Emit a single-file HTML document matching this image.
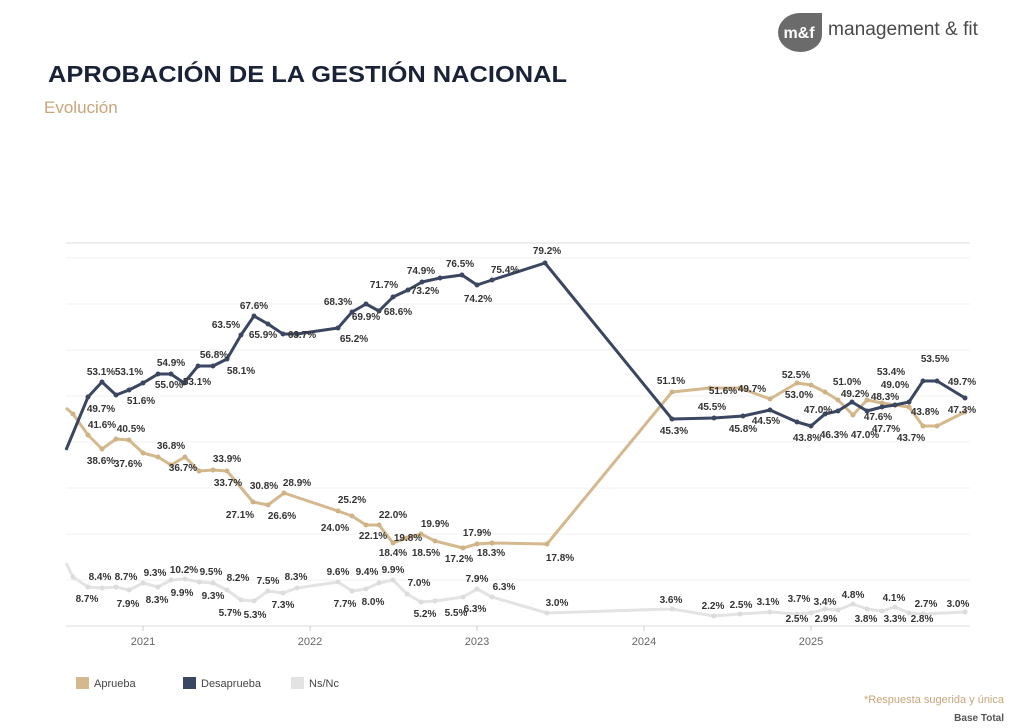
<!DOCTYPE html>
<html><head><meta charset="utf-8"><style>
html,body{margin:0;padding:0;background:#fff;}
svg{display:block;font-family:"Liberation Sans",sans-serif;}
</style></head><body>
<svg width="1024" height="728" viewBox="0 0 1024 728" xmlns="http://www.w3.org/2000/svg">
<defs>
<marker id="md" viewBox="0 0 6 6" refX="3" refY="3" markerWidth="5" markerHeight="5" markerUnits="userSpaceOnUse"><circle cx="3" cy="3" r="3" fill="#3b4661"/></marker>
<marker id="mb" viewBox="0 0 6 6" refX="3" refY="3" markerWidth="5" markerHeight="5" markerUnits="userSpaceOnUse"><circle cx="3" cy="3" r="3" fill="#cfb286"/></marker>
<marker id="mg" viewBox="0 0 6 6" refX="3" refY="3" markerWidth="5" markerHeight="5" markerUnits="userSpaceOnUse"><circle cx="3" cy="3" r="3" fill="#dcdcdc"/></marker>
</defs>
<!-- header -->
<path d="M800,13 L822,13 L822,35 A22,17 0 0 1 800,52 A22,19.5 0 0 1 778,32.5 A22,19.5 0 0 1 800,13 Z" fill="#6b6b6b"/>
<text x="799" y="38" font-size="16" font-weight="bold" fill="#fff" text-anchor="middle">m&amp;f</text>
<text x="828" y="35" font-size="19" fill="#4a4a4a" textLength="150" lengthAdjust="spacingAndGlyphs">management &amp; fit</text>
<text x="48" y="82" font-size="23" font-weight="bold" fill="#1a2238" textLength="519" lengthAdjust="spacingAndGlyphs">APROBACIÓN DE LA GESTIÓN NACIONAL</text>
<text x="44" y="113" font-size="17" fill="#c9a57a">Evolución</text>
<!-- grid -->
<line x1="66" y1="243" x2="970" y2="243" stroke="#ddd"/>
<g stroke="#f0f0f0" stroke-width="1">
<line x1="66" y1="258" x2="970" y2="258"/><line x1="66" y1="304" x2="970" y2="304"/>
<line x1="66" y1="350" x2="970" y2="350"/><line x1="66" y1="396" x2="970" y2="396"/>
<line x1="66" y1="442" x2="970" y2="442"/><line x1="66" y1="488" x2="970" y2="488"/>
<line x1="66" y1="534" x2="970" y2="534"/><line x1="66" y1="580" x2="970" y2="580"/>
</g>
<line x1="66" y1="626" x2="970" y2="626" stroke="#ddd"/>
<g stroke="#ccc"><line x1="143" y1="626" x2="143" y2="631"/><line x1="310" y1="626" x2="310" y2="631"/><line x1="477" y1="626" x2="477" y2="631"/><line x1="644" y1="626" x2="644" y2="631"/><line x1="811" y1="626" x2="811" y2="631"/></g>
<g font-size="11" fill="#666" text-anchor="middle">
<text x="143" y="645">2021</text><text x="310" y="645">2022</text><text x="477" y="645">2023</text><text x="644" y="645">2024</text><text x="811" y="645">2025</text></g>
<!-- Ns/Nc -->
<polyline fill="none" stroke="#e3e3e3" stroke-width="3" stroke-linejoin="round" marker-mid="url(#mg)" marker-end="url(#mg)" points="66,563 73,577 88,587 102,588 116,587 129,590 143,583 158,587 171,580 185,579 199,582 213,583 227,590 241,600 254,601 268,591 283,593 297,588 338,582 352,591 366,589 379,583 393,580 407,594 421,602 435,601 463,597 477,589 492,597 547,613 672,609 714,616 740,614 770,612 797,614 811,613 825,609 838,610 853,604 867,609 882,611 895,607 909,613 923,614 965,612"/>
<!-- Aprueba -->
<polyline fill="none" stroke="#d4b98f" stroke-width="3" stroke-linejoin="round" marker-mid="url(#mb)" marker-end="url(#mb)" points="66,408 73,414 88,435 102,449 116,439 129,440 143,453 158,457 171,465 185,457 199,471 213,470 227,471 253,502 268,505 284,493 338,511 352,516 366,525 379,525 393,543 407,538 421,534 435,541 463,548 477,544 492,543 547,544 672,392 710,388 740,388 770,399 797,383 811,385 825,392 838,400 853,415 867,400 882,403 895,405 909,407 923,426 937,426 965,412"/>
<!-- Desaprueba -->
<polyline fill="none" stroke="#3b4661" stroke-width="3" stroke-linejoin="round" marker-mid="url(#md)" marker-end="url(#md)" points="66,450 88,397 102,382 116,395 129,390 143,383 158,374 171,374 184,383 198,366 213,366 227,359 241,335 254,316 268,324 283,334 297,334 338,328 352,312 366,304 379,311 393,297 408,290 422,282 440,278 462,275 477,285 492,280 545,263 672,419 714,418 743,416 770,410 797,422 811,426 825,414 838,411 852,402 867,411 882,407 895,405 909,402 923,381 937,381 965,398"/>
<!-- labels -->
<g font-weight="bold" style="font-size:10px;fill:#333;text-anchor:middle">
<text x="101" y="375">53.1%</text><text x="129" y="375">53.1%</text><text x="101" y="412">49.7%</text><text x="141" y="404">51.6%</text>
<text x="171" y="366">54.9%</text><text x="169" y="388">55.0%</text><text x="197" y="385">53.1%</text><text x="214" y="358">56.8%</text>
<text x="241" y="374">58.1%</text><text x="226" y="328">63.5%</text><text x="254" y="309">67.6%</text><text x="263" y="338">65.9%</text>
<text x="302" y="338">63.7%</text><text x="338" y="305">68.3%</text><text x="354" y="342">65.2%</text><text x="366" y="320">69.9%</text>
<text x="384" y="288">71.7%</text><text x="398" y="315">68.6%</text><text x="421" y="274">74.9%</text><text x="425" y="294">73.2%</text>
<text x="460" y="267">76.5%</text><text x="478" y="302">74.2%</text><text x="505" y="273">75.4%</text><text x="547" y="254">79.2%</text>
<text x="671" y="384">51.1%</text><text x="674" y="434">45.3%</text><text x="712" y="410">45.5%</text><text x="743" y="432">45.8%</text>
<text x="766" y="424">44.5%</text><text x="807" y="441">43.8%</text><text x="818" y="413">47.0%</text><text x="834" y="438">46.3%</text>
<text x="865" y="438">47.0%</text><text x="855" y="397">49.2%</text><text x="885" y="400">48.3%</text><text x="878" y="420">47.6%</text>
<text x="886" y="432">47.7%</text><text x="891" y="375">53.4%</text><text x="935" y="362">53.5%</text><text x="895" y="388">49.0%</text>
<text x="925" y="415">43.8%</text><text x="911" y="441">43.7%</text><text x="962" y="385">49.7%</text><text x="962" y="413">47.3%</text>
<text x="723" y="394">51.6%</text><text x="752" y="392">49.7%</text><text x="796" y="378">52.5%</text><text x="799" y="398">53.0%</text><text x="847" y="385">51.0%</text>
<text x="102" y="428">41.6%</text><text x="101" y="464">38.6%</text><text x="131" y="432">40.5%</text><text x="128" y="467">37.6%</text>
<text x="171" y="449">36.8%</text><text x="183" y="471">36.7%</text><text x="227" y="462">33.9%</text><text x="228" y="486">33.7%</text>
<text x="264" y="489">30.8%</text><text x="297" y="486">28.9%</text><text x="240" y="518">27.1%</text><text x="282" y="519">26.6%</text>
<text x="352" y="503">25.2%</text><text x="335" y="531">24.0%</text><text x="373" y="539">22.1%</text><text x="393" y="518">22.0%</text>
<text x="408" y="541">19.8%</text><text x="393" y="556">18.4%</text><text x="435" y="527">19.9%</text><text x="426" y="556">18.5%</text>
<text x="459" y="562">17.2%</text><text x="477" y="536">17.9%</text><text x="491" y="556">18.3%</text><text x="560" y="561">17.8%</text>
<text x="100" y="580">8.4%</text><text x="126" y="580">8.7%</text><text x="155" y="576">9.3%</text><text x="184" y="573">10.2%</text>
<text x="211" y="575">9.5%</text><text x="238" y="581">8.2%</text><text x="268" y="584">7.5%</text><text x="296" y="580">8.3%</text>
<text x="87" y="602">8.7%</text><text x="128" y="607">7.9%</text><text x="157" y="603">8.3%</text><text x="182" y="596">9.9%</text>
<text x="213" y="599">9.3%</text><text x="230" y="616">5.7%</text><text x="255" y="618">5.3%</text><text x="283" y="608">7.3%</text>
<text x="338" y="575">9.6%</text><text x="367" y="575">9.4%</text><text x="393" y="573">9.9%</text><text x="345" y="607">7.7%</text>
<text x="373" y="605">8.0%</text><text x="419" y="586">7.0%</text><text x="425" y="617">5.2%</text><text x="456" y="616">5.5%</text>
<text x="475" y="612">6.3%</text><text x="477" y="582">7.9%</text><text x="504" y="590">6.3%</text><text x="557" y="606">3.0%</text>
<text x="671" y="603">3.6%</text><text x="713" y="609">2.2%</text><text x="741" y="608">2.5%</text><text x="768" y="605">3.1%</text>
<text x="799" y="602">3.7%</text><text x="825" y="605">3.4%</text><text x="853" y="598">4.8%</text><text x="797" y="622">2.5%</text>
<text x="826" y="622">2.9%</text><text x="866" y="622">3.8%</text><text x="895" y="622">3.3%</text><text x="922" y="622">2.8%</text>
<text x="894" y="601">4.1%</text><text x="926" y="607">2.7%</text><text x="958" y="607">3.0%</text>
</g>
<!-- legend -->
<rect x="76" y="677" width="13" height="12" fill="#d4b98f"/><text x="94" y="687" font-size="11" fill="#444">Aprueba</text>
<rect x="183" y="677" width="13" height="12" fill="#3b4661"/><text x="201" y="687" font-size="11" fill="#444">Desaprueba</text>
<rect x="291" y="677" width="13" height="12" fill="#e3e3e3"/><text x="309" y="687" font-size="11" fill="#444">Ns/Nc</text>
<text x="1004" y="703" font-size="11" fill="#c9a57a" text-anchor="end">*Respuesta sugerida y única</text>
<text x="1004" y="721" font-size="10" font-weight="bold" fill="#555" text-anchor="end">Base Total</text>
</svg>
</body></html>
